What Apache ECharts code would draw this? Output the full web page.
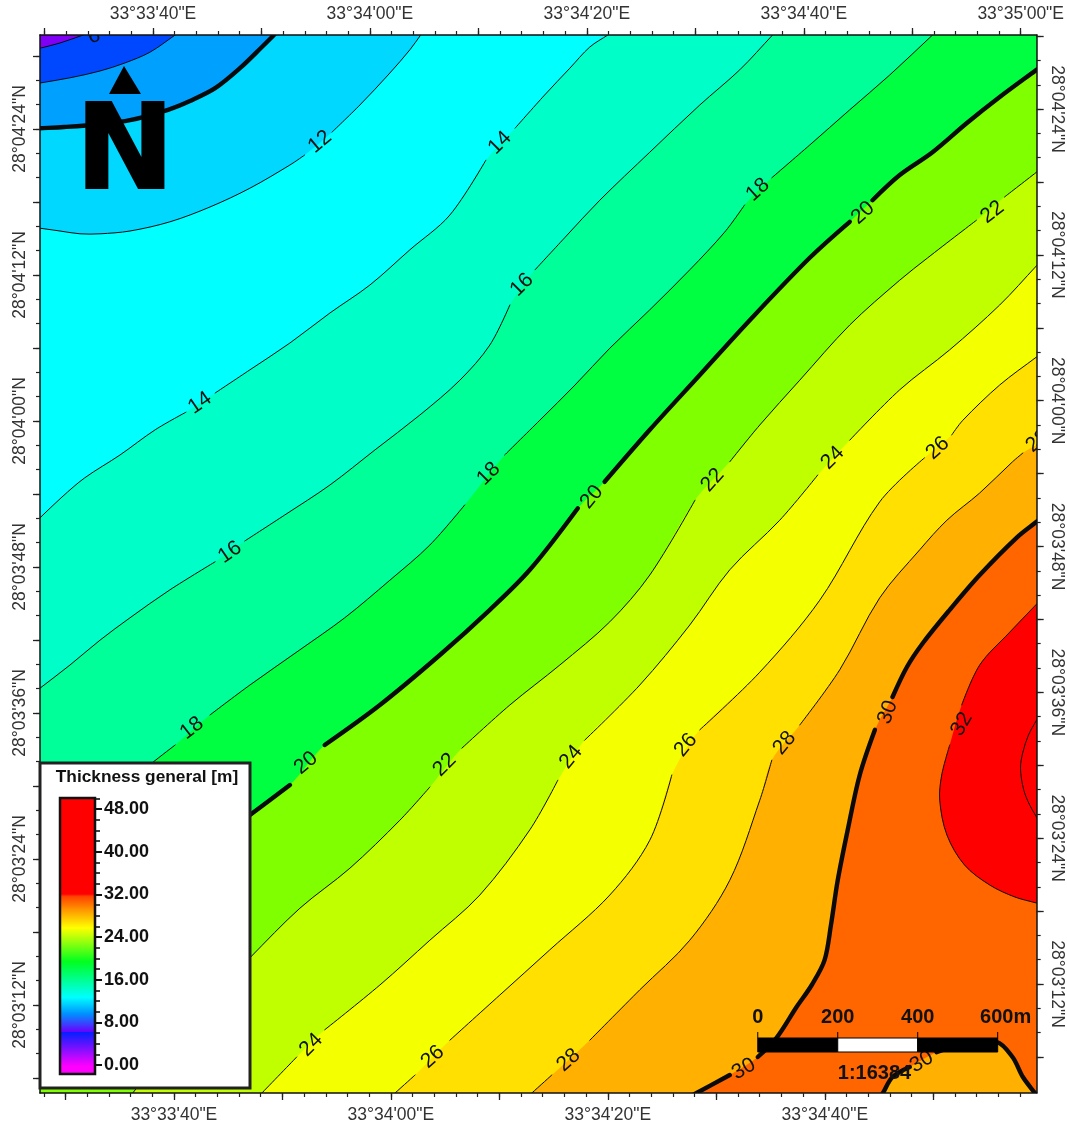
<!DOCTYPE html>
<html>
<head>
<meta charset="utf-8">
<style>html,body{margin:0;padding:0;background:#fff}#c{width:1067px;height:1124px;filter:blur(0.5px)}</style>
<script src="https://cdn.jsdelivr.net/npm/echarts@6/dist/echarts.min.js"></script>
</head>
<body>
<div id="c"></div>
<script>
// Map extent in metres east / north of the south-west corner of the map frame
const mapEast = 2492.5, mapNorth = 2645;

// Thickness contours, [east m, north m]; null marks a break in the line for a label
const contour6 = [[0,2612],[50,2625],[108,2645]];
const contour8 = [[0,2525],[75,2538],[150,2555],[212,2575],[275,2602],[338,2645]];
const contour10 = [[0,2412],[60,2415],[150,2422],[225,2432],[320,2458],[375,2480],[438,2512],[500,2562],[555,2615],[585,2645]];
const contour12 = [[0,2162],[50,2155],[100,2148],[150,2148],[225,2155],[325,2178],[425,2215],[525,2262],[625,2320],[662,2345],null,[730,2402],[800,2470],[875,2550],[925,2608],[952,2645]];
const contour14 = [[0,1438],[55,1490],[112,1538],[200,1595],[288,1658],[365,1702],null,[438,1750],[525,1808],[625,1875],[725,1950],[825,2020],[925,2108],[1025,2195],[1115,2332],null,[1188,2412],[1262,2495],[1325,2562],[1375,2615],[1420,2645]];
const contour16 = [[0,1012],[75,1070],[150,1132],[225,1188],[325,1258],[438,1328],null,[512,1380],[612,1445],[725,1520],[838,1608],[950,1695],[1050,1782],[1125,1870],[1175,1970],null,[1238,2058],[1312,2138],[1400,2232],[1525,2352],[1650,2470],[1750,2558],[1832,2645]];
const contour18 = [[0,595],[150,720],[280,825],[338,870],null,[425,945],[525,1020],[650,1108],[762,1188],[875,1282],[975,1370],[1062,1470],null,[1162,1595],[1250,1682],[1338,1770],[1425,1862],[1525,1958],[1625,2058],[1712,2152],[1762,2220],null,[1830,2288],[1925,2370],[2025,2458],[2125,2545],[2232,2645]];
const contour20 = [[0,270],[275,508],[525,695],[625,770],null,[712,870],[850,970],[1000,1095],[1125,1208],[1225,1308],[1345,1462],null,[1412,1528],[1525,1658],[1650,1795],[1775,1932],[1925,2088],[2025,2178],null,[2082,2232],[2150,2295],[2232,2352],[2318,2425],[2400,2490],[2492,2558]];
const contour22 = [[232,0],[375,182],[525,338],[650,462],[775,562],[900,682],[975,765],null,[1055,862],[1175,970],[1300,1070],[1425,1178],[1525,1295],[1638,1482],null,[1725,1578],[1800,1670],[1900,1782],[2025,1920],[2150,2032],[2220,2088],[2342,2182],null,[2412,2240],[2492,2302]];
const contour24 = [[555,0],[642,90],null,[712,158],[850,270],[975,382],[1100,495],[1225,658],[1295,782],null,[1362,882],[1500,1020],[1625,1170],[1725,1308],[1850,1432],[1945,1545],null,[2025,1632],[2150,1758],[2275,1858],[2400,1970],[2492,2068]];
const contour26 = [[888,0],[938,45],null,[1025,132],[1150,245],[1275,358],[1425,495],[1525,632],[1580,795],null,[1650,908],[1800,1052],[1950,1232],[2100,1478],[2212,1588],null,[2280,1645],[2308,1682],[2400,1770],[2492,1840]];
const contour28 = [[1230,0],[1280,45],null,[1375,132],[1500,258],[1625,382],[1725,532],[1800,732],[1830,832],null,[1900,920],[2000,1058],[2100,1238],[2200,1358],[2268,1432],[2350,1500],[2432,1578],[2458,1600],null,[2492,1620]];
const contour30a = [[1642,0],[1725,45],null,[1795,90],[1842,138],[1892,215],[1930,270],[1962,332],[1978,420],[1995,532],[2020,658],[2050,795],[2088,908],null,[2132,990],[2168,1065],[2208,1125],[2275,1208],[2350,1295],[2442,1388],[2492,1428]];
const contour30b = [[2108,0],[2132,40],[2175,65],null,[2242,102],[2300,120],[2392,128],[2432,90],[2458,40],[2488,0]];
const contour32 = [[2492,1222],[2425,1152],[2350,1070],[2305,970],null,[2275,870],[2255,795],[2250,732],[2268,645],[2312,570],[2375,520],[2438,490],[2492,475]];
const contour34 = [[2492,932],[2472,895],[2458,852],[2452,812],[2460,758],[2475,720],[2492,690]];

const thinContours = [contour6,contour8,contour12,contour14,contour16,contour18,contour22,contour24,contour26,contour28,contour32,contour34];
const thickContours = [contour10,contour20,contour30a,contour30b];

// Contour labels: text, east m, north m, reading angle
const contourLabelText = ['6','12','14','14','16','16','18','18','18','20','20','20','22','22','22','24','24','24','26','26','26','28','28','28','30','30','30','32'];
const contourLabelEast = [135,700,400,1150,475,1205,380,1122,1795,665,1380,2058,1012,1682,2382,678,1328,1982,982,1615,2245,1322,1862,2495,2120,1760,2205,2305];
const contourLabelNorth = [2642,2378,1725,2375,1352,2020,912,1548,2258,825,1490,2200,820,1532,2202,120,840,1588,90,870,1612,82,875,1630,952,60,78,922];
const contourLabelAngle = [20,40,35,45,35,45,38,45,42,40,50,42,45,48,38,45,50,45,42,50,42,42,50,40,70,30,30,60];

// Band fill for each filled region, lowest first
const bandColors = ['#7f00f5','#0048ff','#00a0ff','#00d8ff','#00ffff','#00ffc8','#00ff98','#00ff40','#80ff00','#c0ff00','#f4ff00','#ffe000','#ffb000','#ff6600','#ff0000','#ff0000'];

// Graticule tick labels
const lonSeconds = [40,60,80,100,120];
const lonLabels = ['33°33\'40"E','33°34\'00"E','33°34\'20"E','33°34\'40"E','33°35\'00"E'];
const latSeconds = [12,24,36,48,60,72,84];
const latLabels = ['28°03\'12"N','28°03\'24"N','28°03\'36"N','28°03\'48"N','28°04\'00"N','28°04\'12"N','28°04\'24"N'];

// Colour scale
const scaleTitle = 'Thickness general [m]';
const scaleTickValues = [0,8,16,24,32,40,48];
const scaleStopValues = [-2,0,6.4,6.4,9.7,12.8,19.4,25.7,29,31.6,32,51];
const scaleStopColors = ['#ff00ff','#ff00ff','#6a00ff','#0020ff','#0090ff','#00ffff','#00ff20','#ffff00','#ff9900','#ff4000','#ff0000','#ff0000'];

// Scale bar, metres
const scaleBarStops = [0,200,400,600];
const scaleBarLabels = ['0','200','400','600m'];
const scaleBarFills = ['#000','#fff','#000'];
const scaleRatio = '1:16384';

const W = mapEast, H = mapNorth, FAR = 600;
const TR = [W + FAR, H + FAR], BR = [W + FAR, -FAR], BL = [-FAR, -FAR];
const solid = c => c.filter(Boolean);
// Carry a contour straight on past the frame so that curve smoothing ends cleanly; the frame clips it
const carried = c => {
  const s = solid(c), n = s.length;
  const head = [2 * s[0][0] - s[1][0], 2 * s[0][1] - s[1][1]];
  const tail = [2 * s[n - 1][0] - s[n - 2][0], 2 * s[n - 1][1] - s[n - 2][1]];
  return [head, ...c, tail];
};
const open = c => solid(carried(c));
const regions = [
  { pts: [[-FAR, -FAR], [W + FAR, -FAR], [W + FAR, H + FAR], [-FAR, H + FAR]], smooth: 0 },
  ...[contour6,contour8,contour10,contour12,contour14,contour16,contour18].map(c => ({ pts: [...open(c), TR, BR, BL], smooth: 0.33 })),
  { pts: [...open(contour20), BR, BL], smooth: 0.33 },
  ...[contour22,contour24,contour26,contour28].map(c => ({ pts: [...open(c), BR], smooth: 0.33 })),
  { pts: [...open(contour30a), BR, ...open(contour30b).reverse()], smooth: 0.33 },
  { pts: [...open(contour32), [W + 300, 850]], smooth: 0.33 },
  { pts: [...open(contour34), [W + 200, 810]], smooth: 0.33 }
];
const pieces = c => {
  const out = [[]];
  carried(c).forEach(p => { if (p) out[out.length - 1].push(p); else out.push([]); });
  return out.filter(s => s.length > 1);
};
const contourPieces = [
  ...thinContours.flatMap(c => pieces(c).map(pts => ({ pts, width: 1 }))),
  ...thickContours.flatMap(c => pieces(c).map(pts => ({ pts, width: 4.4 })))
];

// Graticule position on each frame side (metres along that side)
const bottomTick = s => 335 + (s - 40) * 27.125;
const topTick = s => 282.5 + (s - 40) * 27.125;
const leftTick = s => 220 + (s - 12) * 30.42;
const rightTick = s => 272.5 + (s - 12) * 30.38;
const range = (a, b, st) => { const o = []; for (let v = a; v <= b + 1e-6; v += st) o.push(v); return o; };
const inX = v => v >= 0 && v <= W, inY = v => v >= 0 && v <= H;

const tickColor = '#222';
const labelFont = { fontFamily: '"Liberation Sans"', fontSize: 17.5, color: '#333' };

function nearestLabel(values, labels) {
  return v => { let b = 0; values.forEach((x, i) => { if (Math.abs(x - v) < Math.abs(values[b] - v)) b = i; }); return labels[b]; };
}
function sideAxis(pos, extentMax, tickFn, inside, major, minor, labelSecs, labels, rotate, margin) {
  const vals = labelSecs.map(tickFn).filter(inside);
  const labs = labels.filter((_, i) => inside(tickFn(labelSecs[i])));
  const base = { type: 'value', gridIndex: 0, position: pos, min: 0, max: extentMax, splitLine: { show: false }, z: 5 };
  return [
    Object.assign({}, base, {
      axisLine: { show: true, onZero: false, lineStyle: { color: '#111', width: 1.5 } },
      axisTick: { show: true, length: 7, customValues: major.map(tickFn).filter(inside), lineStyle: { color: tickColor, width: 1.3 } },
      axisLabel: Object.assign({ show: true, margin, rotate, customValues: vals, formatter: nearestLabel(vals, labs) }, labelFont)
    }),
    Object.assign({}, base, {
      axisLine: { show: false, onZero: false },
      axisTick: { show: true, length: 4, customValues: minor.map(tickFn).filter(inside), lineStyle: { color: tickColor, width: 1.2 } },
      axisLabel: { show: false }
    })
  ];
}

const [xBottom, xBottomMinor] = sideAxis('bottom', W, bottomTick, inX, range(30, 120, 10), range(28, 120, 2), lonSeconds, lonLabels, 0, 13);
const [xTop, xTopMinor] = sideAxis('top', W, topTick, inX, range(30, 120, 10), range(28, 122, 2), lonSeconds, lonLabels, 0, 12);
const [yLeft, yLeftMinor] = sideAxis('left', H, leftTick, inY, range(6, 90, 6), range(6, 90, 2), latSeconds, latLabels, 90, 11);
const [yRight, yRightMinor] = sideAxis('right', H, rightTick, inY, range(6, 90, 6), range(6, 90, 2), latSeconds, latLabels, -90, 11);

const scaleMin = -1.69, scaleMax = 50.09;
const scaleAxisBase = { type: 'value', gridIndex: 1, position: 'right', min: scaleMin, max: scaleMax, splitLine: { show: false }, z: 12 };
const yScale = Object.assign({}, scaleAxisBase, {
  axisLine: { show: false, onZero: false },
  axisTick: { show: true, length: 7, customValues: scaleTickValues, lineStyle: { color: '#111', width: 2 } },
  axisLabel: { show: true, margin: 9, customValues: scaleTickValues, formatter: v => Math.round(v).toFixed(2), fontFamily: '"Liberation Sans"', fontWeight: 'bold', fontSize: 18, color: '#111' }
});
const yScaleMinor = Object.assign({}, scaleAxisBase, {
  axisLine: { show: false, onZero: false },
  axisTick: { show: true, length: 5, customValues: range(0, 50, 2), lineStyle: { color: '#111', width: 1.6 } },
  axisLabel: { show: false }
});
const xScale = { type: 'value', gridIndex: 1, min: 0, max: 1, show: false };

const mapAxes = { xAxisIndex: 0, yAxisIndex: 0, coordinateSystem: 'cartesian2d' };

const series = [
  Object.assign({
    type: 'custom', z: 1, silent: true, clip: true,
    data: regions.map((_, i) => [i]),
    renderItem: (p, api) => {
      const r = regions[p.dataIndex];
      return { type: 'polygon', shape: { points: r.pts.map(q => api.coord(q)), smooth: r.smooth }, style: { fill: bandColors[p.dataIndex], stroke: null } };
    }
  }, mapAxes),
  Object.assign({
    type: 'custom', z: 2, silent: true, clip: true,
    data: contourPieces.map((_, i) => [i]),
    renderItem: (p, api) => {
      const c = contourPieces[p.dataIndex];
      return { type: 'polyline', shape: { points: c.pts.map(q => api.coord(q)), smooth: 0.33 }, style: { fill: null, stroke: '#0a0a0a', lineWidth: c.width, lineCap: 'round', lineJoin: 'round' } };
    }
  }, mapAxes),
  Object.assign({
    type: 'custom', z: 3, silent: true, clip: true,
    data: contourLabelText.map((_, i) => [contourLabelEast[i], contourLabelNorth[i]]),
    renderItem: (p, api) => {
      const i = p.dataIndex, pt = api.coord([contourLabelEast[i], contourLabelNorth[i]]);
      return { type: 'text', x: pt[0], y: pt[1], rotation: contourLabelAngle[i] * Math.PI / 180,
        style: { text: contourLabelText[i], textAlign: 'center', textVerticalAlign: 'middle', font: '21px "Liberation Sans"', fill: '#111' } };
    }
  }, mapAxes),
  Object.assign({
    type: 'custom', z: 5, silent: true, clip: false,
    data: scaleBarFills.map((_, i) => [i]),
    renderItem: (p, api) => {
      const origin = 1795, lowN = 102.5, highN = 137.5;
      const i = p.dataIndex;
      const a = api.coord([origin + scaleBarStops[i], highN]), b = api.coord([origin + scaleBarStops[i + 1], lowN]);
      const kids = [{ type: 'rect', shape: { x: a[0], y: a[1], width: b[0] - a[0], height: b[1] - a[1] }, style: { fill: scaleBarFills[i], stroke: '#000', lineWidth: 1 } }];
      const tick = (k) => {
        const t = api.coord([origin + scaleBarStops[k], highN]);
        kids.push({ type: 'line', shape: { x1: t[0], y1: t[1], x2: t[0], y2: t[1] - 6 }, style: { stroke: '#000', lineWidth: 1 } });
        kids.push({ type: 'text', x: t[0] + (k === 3 ? 8 : 0), y: t[1] - 21, style: { text: scaleBarLabels[k], textAlign: 'center', textVerticalAlign: 'middle', font: 'bold 20px "Liberation Sans"', fill: '#111' } });
      };
      tick(i);
      if (i === 2) {
        tick(3);
        const r = api.coord([origin + 292, 50]);
        kids.push({ type: 'text', x: r[0], y: r[1], style: { text: scaleRatio, textAlign: 'center', textVerticalAlign: 'middle', font: 'bold 20px "Liberation Sans"', fill: '#111' } });
      }
      return { type: 'group', children: kids };
    }
  }, mapAxes),
  {
    type: 'custom', z: 12, silent: true, coordinateSystem: 'cartesian2d', xAxisIndex: 4, yAxisIndex: 4,
    data: [[0, scaleMax]],
    renderItem: (p, api) => {
      const a = api.coord([0, scaleMax]), b = api.coord([1, scaleMin]);
      const stops = scaleStopValues.map((v, i) => ({ offset: Math.min(1, Math.max(0, (scaleMax - v) / (scaleMax - scaleMin))), color: scaleStopColors[i] })).sort((x, y) => x.offset - y.offset);
      return { type: 'rect', shape: { x: a[0], y: a[1], width: b[0] - a[0], height: b[1] - a[1] },
        style: { fill: new echarts.graphic.LinearGradient(0, 0, 0, 1, stops), stroke: '#111', lineWidth: 2.5 } };
    }
  }
];

const chart = echarts.init(document.getElementById('c'), null, { renderer: 'canvas', width: 1067, height: 1124 });
chart.setOption({
  animation: false,
  backgroundColor: '#fff',
  grid: [
    { left: 40, top: 35, width: 997, height: 1058, show: false },
    { left: 60, top: 798, width: 35, height: 276, show: false }
  ],
  xAxis: [xBottom, xTop, xBottomMinor, xTopMinor, xScale],
  yAxis: [yLeft, yRight, yLeftMinor, yRightMinor, yScale, yScaleMinor],
  series,
  graphic: { elements: [
    { type: 'rect', z: 10, silent: true, shape: { x: 40, y: 763, width: 210, height: 325 }, style: { fill: '#fff', stroke: '#222', lineWidth: 3 } },
    { type: 'text', z: 11, silent: true, x: 147, y: 777, style: { text: scaleTitle, textAlign: 'center', textVerticalAlign: 'middle', font: 'bold 17.3px "Liberation Sans"', fill: '#111' } },
    { type: 'polygon', z: 6, silent: true, shape: { points: [[124, 66], [109, 94], [141, 94]] }, style: { fill: '#000' } },
    { type: 'text', z: 6, silent: true, x: 125, y: 157, style: { text: 'N', textAlign: 'center', textVerticalAlign: 'middle', font: 'bold 118px "DejaVu Sans"', fill: '#000', stroke: '#000', lineWidth: 2 } }
  ] }
});
</script>
</body>
</html>
